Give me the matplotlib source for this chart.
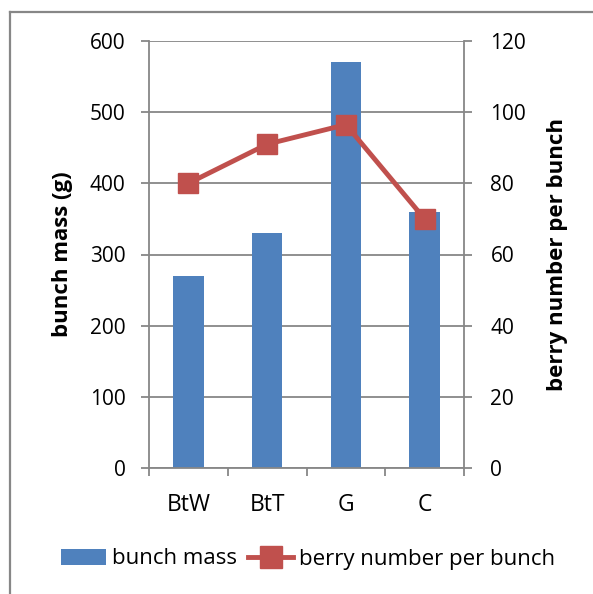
import numpy as np
from matplotlib import pyplot as plt
from matplotlib.lines import Line2D

categorias = ['BtW', 'BtT', 'G', 'C']
bunch_mass = [270, 330, 570, 360]
berry_number = [80, 91, 96.5, 70]

plt.rcParams['font.family'] = ['Open Sans', 'DejaVu Sans']
plt.rcParams['font.size'] = 15

gris = '#878787'
fig = plt.figure(figsize=(5.93, 5.94), dpi=100)
ax = fig.add_axes([149/593, 1 - 468/594, 315/593, 427/594])
x = np.arange(len(categorias))

barras = ax.bar(x, bunch_mass, width=0.39, color='#4F81BD', zorder=2, label='bunch mass')
ax.set_xlim(-0.5, 3.5)
ax.set_ylim(0, 600)
ax.set_yticks(range(0, 601, 100))
ax.grid(axis='y', color=gris, lw=1.3, zorder=0)
ax.set_xticks(x)
ax.set_xticklabels(categorias, fontsize=16.5)
ax.set_xticks(np.arange(-0.5, 4, 1), minor=True)
ax.tick_params(axis='x', which='major', length=0, pad=18)
ax.tick_params(axis='x', which='minor', length=6, width=1.3, color=gris)
ax.tick_params(axis='y', length=6, width=1.3, color=gris, pad=11)
for s in ['top', 'right']:
    ax.spines[s].set_visible(False)
for s in ['left', 'bottom']:
    ax.spines[s].set_color(gris)
    ax.spines[s].set_linewidth(1.3)
ax.set_ylabel('bunch mass (g)', fontweight='bold', fontsize=16, labelpad=12)

ax2 = ax.twinx()
linea, = ax2.plot(x, berry_number, color='#C0504D', lw=3.5, marker='s', markersize=14,
                  label='berry number per bunch', zorder=3)
ax2.set_ylim(0, 120)
ax2.set_yticks(range(0, 121, 20))
ax2.tick_params(axis='y', length=6, width=1.3, color=gris, pad=13)
for s in ['top', 'left', 'bottom']:
    ax2.spines[s].set_visible(False)
ax2.spines['right'].set_color(gris)
ax2.spines['right'].set_linewidth(1.3)
ax2.set_ylabel('berry number per bunch', fontweight='bold', fontsize=16, labelpad=15)

fig.legend(handles=[barras, linea], loc='center', bbox_to_anchor=(0.52, 1 - 559/594),
           ncol=2, frameon=False, handlelength=2.0, handletextpad=0.3, columnspacing=0.5,
           fontsize=16, markerscale=1.1)

# borde
fig.add_artist(Line2D([10/593, 10/593], [0, 1 - 12/594], color=gris, lw=1.6))
fig.add_artist(Line2D([10/593, 1], [1 - 12/594, 1 - 12/594], color=gris, lw=1.6))

plt.savefig('out.png', dpi=100)
